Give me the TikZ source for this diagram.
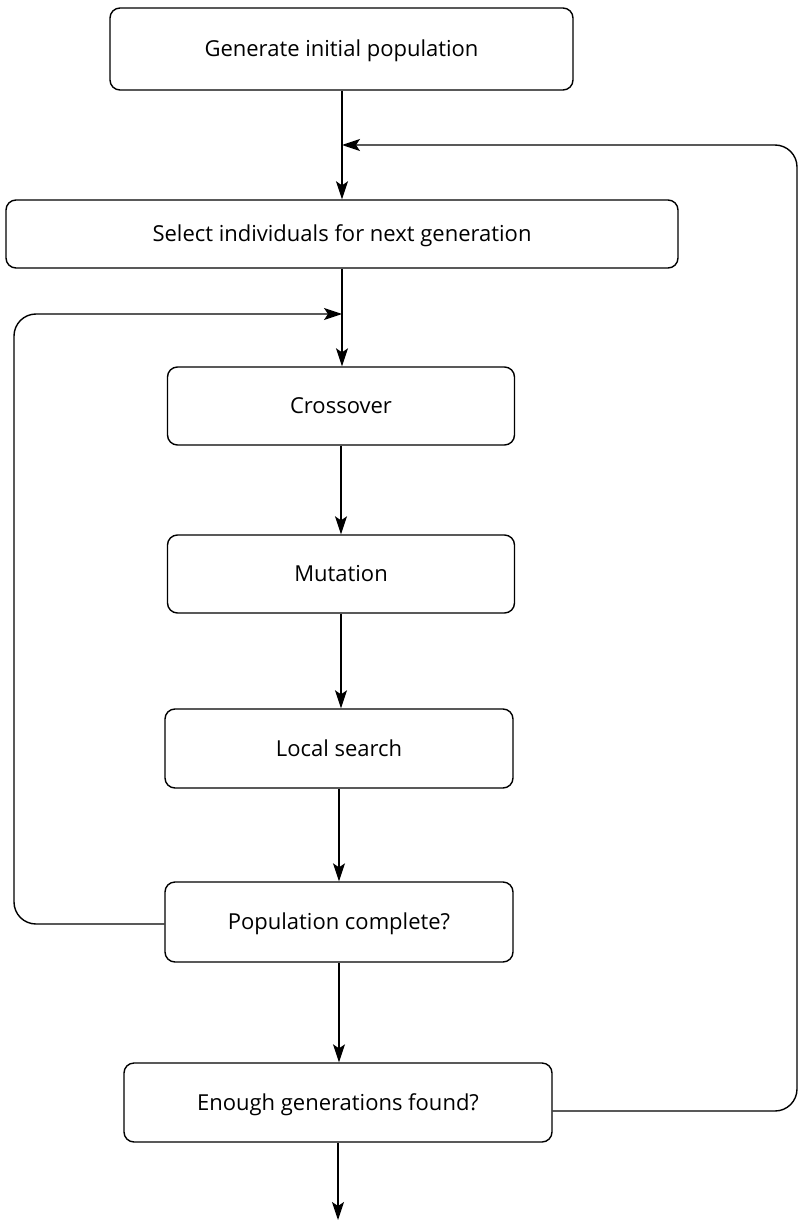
\documentclass[tikz,border=0pt]{standalone}
\usepackage{fontspec}
\setmainfont{Open Sans}
\usetikzlibrary{arrows.meta}
\begin{document}
\begin{tikzpicture}[x=1pt,y=-1pt,
  box/.style={draw, line width=1.4pt, rounded corners=10pt, inner sep=0pt,
    text height=15.5pt, text depth=0pt,
    font=\fontsize{22}{26}\selectfont},
  tip/.style={-{Stealth[length=18pt,width=12pt,inset=4pt]}},
  flow/.style={line width=1.4pt, tip},
  back/.style={line width=1.4pt, rounded corners=22pt, tip}]
\useasboundingbox (0,0) rectangle (798,1222);

\node[box, minimum width=463pt, minimum height=82pt] (gen) at (341.5,49) {Generate initial population};
\node[box, minimum width=672pt, minimum height=68pt] (sel) at (342,234) {Select individuals for next generation};
\node[box, minimum width=347pt, minimum height=78pt] (cross) at (341,406) {Crossover};
\node[box, minimum width=347pt, minimum height=78pt] (mut) at (341,574) {Mutation};
\node[box, minimum width=348pt, minimum height=79pt] (ls) at (339,748.5) {Local search};
\node[box, minimum width=348pt, minimum height=80pt] (pop) at (339,922) {Population complete?};
\node[box, minimum width=428pt, minimum height=79pt] (enough) at (338,1102.5) {Enough generations found?};

% junction points where the loops rejoin the main line
\coordinate (j1) at (342,145);
\coordinate (j2) at (342,314);
\coordinate (out) at (338,1220);

% main line
\draw[flow] (gen.south -| j1) -- (sel.north -| j1);
\draw[flow] (sel.south -| j2) -- (cross.north -| j2);
\draw[flow] (cross.south) -- (mut.north);
\draw[flow] (mut.south) -- (ls.north -| mut.south);
\draw[flow] (ls.south) -- (pop.north);
\draw[flow] (pop.south) -- (enough.north -| pop.south);
\draw[flow] (enough.south -| out) -- (out);

% loops back
\draw[back] (enough.east |- 0,1111) -- (797,1111) -- (797,145) -- (j1);
\draw[back] (pop.west |- 0,924) -- (14,924) -- (14,314) -- (j2);
\end{tikzpicture}
\end{document}
